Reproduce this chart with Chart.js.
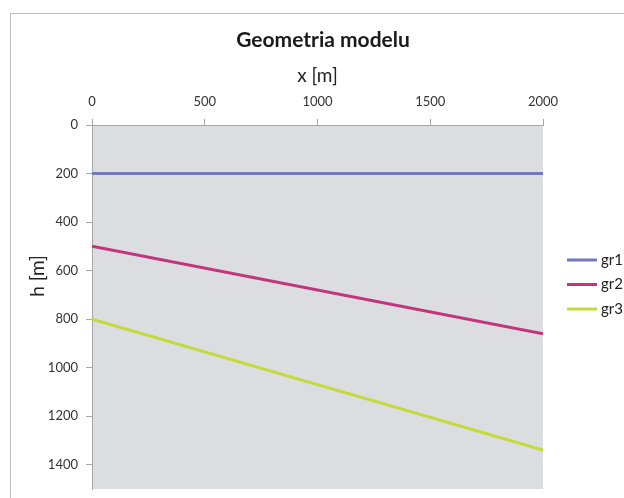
<!DOCTYPE html>
<html>
<head>
<meta charset="utf-8">
<script src="https://cdn.jsdelivr.net/npm/chart.js@4/dist/chart.umd.min.js"></script>
<style>
  html, body { margin: 0; padding: 0; background: #fff; overflow: hidden; }
  body { width: 624px; height: 498px; position: relative; }
  #frame { position: absolute; left: 10px; top: 13px; width: 700px; height: 600px; border: 1px solid #bfbfbf; }
  #chart { position: absolute; left: 0; top: 0; }
</style>
</head>
<body>
<div id="frame"></div>
<canvas id="chart" width="624" height="498"></canvas>
<script>
// --- データ ---
const xPoints = [0, 2000];
const gr1 = [200, 200];
const gr2 = [500, 860];
const gr3 = [800, 1340];
const seriesNames = ['gr1', 'gr2', 'gr3'];
const seriesColors = ['#7478b6', '#c2357c', '#c4d93a'];
const xTicks = [0, 500, 1000, 1500, 2000];
const yTicks = [0, 200, 400, 600, 800, 1000, 1200, 1400];

const FONT = 'Lato, "Open Sans", sans-serif';

function toPoints(ys) {
  return xPoints.map((x, i) => ({ x: x, y: ys[i] }));
}

// 背景(プロットエリア)
const plotBg = {
  id: 'plotBg',
  beforeDraw(chart) {
    const a = chart.chartArea;
    const c = chart.ctx;
    c.save();
    c.fillStyle = '#dcdde0';
    c.fillRect(a.left, a.top, a.right - a.left, a.bottom - a.top);
    c.restore();
  }
};

// 凡例 (右側) と縦軸タイトル
const sideText = {
  id: 'sideText',
  afterDraw(chart) {
    const c = chart.ctx;
    c.save();
    c.font = '15px ' + FONT;
    c.textBaseline = 'middle';
    c.fillStyle = '#222';
    chart.data.datasets.forEach((ds, i) => {
      const y = 260 + i * 24.5;
      c.strokeStyle = ds.borderColor;
      c.lineWidth = 3;
      c.beginPath();
      c.moveTo(567, y);
      c.lineTo(597, y);
      c.stroke();
      c.fillText(ds.label, 601, y);
    });
    // h [m]
    c.translate(38, 276);
    c.rotate(-Math.PI / 2);
    c.font = '19px ' + FONT;
    c.textAlign = 'center';
    c.fillText('h [m]', 0, 0);
    c.restore();
  }
};

const numLabel = v => String(v);

new Chart(document.getElementById('chart'), {
  type: 'line',
  data: {
    datasets: [gr1, gr2, gr3].map((s, i) => ({
      label: seriesNames[i],
      data: toPoints(s),
      borderColor: seriesColors[i],
      backgroundColor: seriesColors[i],
      borderWidth: 3,
      pointRadius: 0,
      tension: 0,
      fill: false
    }))
  },
  options: {
    responsive: false,
    animation: false,
    layout: { padding: { left: 22, right: 0, top: 0, bottom: 9 } },
    plugins: {
      legend: { display: false },
      tooltip: { enabled: false },
      title: {
        display: true,
        text: 'Geometria modelu',
        color: '#1a1a1a',
        font: { family: FONT, size: 21, weight: 'bold' },
        padding: { top: 28, bottom: 0 }
      }
    },
    scales: {
      x: {
        type: 'linear',
        position: 'top',
        min: 0,
        max: 2000,
        afterBuildTicks(scale) { scale.ticks = xTicks.map(v => ({ value: v })); },
        afterFit(scale) { scale.height = 71.8; },
        ticks: {
          color: '#333',
          font: { family: FONT, size: 13 },
          padding: 9,
          maxRotation: 0,
          callback: numLabel
        },
        grid: { drawOnChartArea: false, drawTicks: true, tickLength: 6, color: '#a6a6a6' },
        border: { display: true, color: '#a6a6a6' },
        title: {
          display: true,
          text: 'x [m]',
          color: '#222',
          font: { family: FONT, size: 19 },
          padding: { top: 11, bottom: 0 }
        }
      },
      y: {
        type: 'linear',
        reverse: true,
        min: 0,
        max: 1500,
        afterBuildTicks(scale) { scale.ticks = yTicks.map(v => ({ value: v })); },
        afterFit(scale) {
          scale.width = 70;
          scale.paddingTop = 0;
          scale.paddingBottom = 0;
        },
        ticks: {
          color: '#333',
          font: { family: FONT, size: 13 },
          padding: 8,
          callback: numLabel
        },
        grid: { drawOnChartArea: false, drawTicks: true, tickLength: 6, color: '#a6a6a6' },
        border: { display: true, color: '#a6a6a6' }
      },
      // 凡例用の右側スペース
      legendSpace: {
        type: 'linear',
        position: 'right',
        display: true,
        afterFit(scale) { scale.width = 81; },
        ticks: { display: false },
        grid: { display: false },
        border: { display: false }
      }
    }
  },
  plugins: [plotBg, sideText]
});
</script>
</body>
</html>
